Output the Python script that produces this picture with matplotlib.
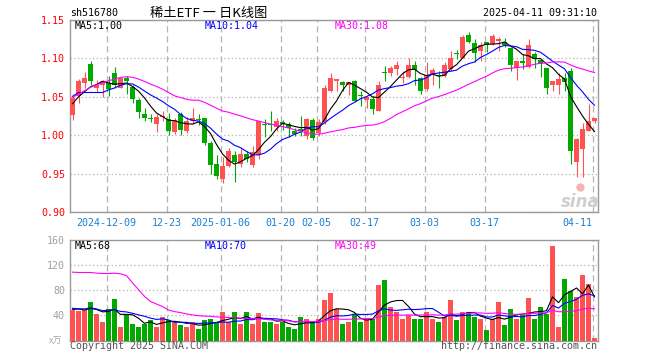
import matplotlib
matplotlib.use('Agg')
import matplotlib.pyplot as plt
import numpy as np

# ---------------- data ----------------
opens = [1.026, 1.051, 1.068, 1.093, 1.061, 1.066, 1.068, 1.081, 1.062, 1.075,
         1.063, 1.046, 1.028, 1.022, 1.015, 1.024, 1.021, 1.004, 1.028, 1.006,
         1.018, 1.021, 1.022, 0.990, 0.963, 0.943, 0.960, 0.974, 0.962, 0.975,
         0.961, 0.974, 1.015, 1.014, 1.011, 1.017, 1.014, 1.006, 1.008, 0.999,
         1.020, 1.003, 1.017, 1.057, 1.071, 1.069, 1.066, 1.070, 1.052, 1.046,
         1.047, 1.032, 1.082, 1.081, 1.086, 1.074, 1.076, 1.092, 1.074, 1.060,
         1.079, 1.078, 1.077, 1.086, 1.107, 1.100, 1.131, 1.120, 1.110, 1.121,
         1.119, 1.123, 1.121, 1.114, 1.087, 1.096, 1.089, 1.106, 1.098, 1.087,
         1.065, 1.065, 1.075, 1.083, 0.965, 0.982, 1.006, 1.018]
highs = [1.053, 1.073, 1.082, 1.096, 1.072, 1.072, 1.077, 1.089, 1.075, 1.077,
         1.066, 1.049, 1.036, 1.028, 1.027, 1.032, 1.029, 1.022, 1.030, 1.024,
         1.035, 1.027, 1.023, 0.993, 0.974, 0.972, 0.983, 0.979, 0.983, 0.979,
         0.986, 1.019, 1.021, 1.031, 1.022, 1.020, 1.017, 1.009, 1.025, 1.022,
         1.022, 1.021, 1.065, 1.081, 1.073, 1.071, 1.069, 1.072, 1.058, 1.051,
         1.051, 1.070, 1.090, 1.090, 1.097, 1.084, 1.100, 1.096, 1.076, 1.095,
         1.088, 1.083, 1.095, 1.110, 1.111, 1.130, 1.135, 1.125, 1.121, 1.122,
         1.132, 1.128, 1.126, 1.115, 1.096, 1.106, 1.125, 1.108, 1.099, 1.087,
         1.070, 1.081, 1.081, 1.087, 0.996, 1.016, 1.041, 1.023]
lows = [1.020, 1.042, 1.061, 1.066, 1.056, 1.050, 1.051, 1.061, 1.061, 1.053,
        1.042, 1.022, 1.018, 1.017, 1.004, 1.018, 1.000, 1.002, 1.000, 1.003,
        1.015, 1.013, 0.987, 0.950, 0.943, 0.938, 0.958, 0.939, 0.959, 0.965,
        0.959, 0.969, 0.998, 1.005, 1.006, 1.007, 0.998, 0.999, 0.999, 0.995,
        0.994, 0.999, 1.015, 1.056, 1.057, 1.058, 1.052, 1.043, 1.038, 1.036,
        1.028, 1.031, 1.070, 1.077, 1.079, 1.068, 1.075, 1.065, 1.053, 1.058,
        1.066, 1.061, 1.076, 1.084, 1.099, 1.100, 1.120, 1.095, 1.096, 1.108,
        1.118, 1.110, 1.115, 1.084, 1.072, 1.086, 1.087, 1.087, 1.076, 1.053,
        1.058, 1.054, 1.058, 0.963, 0.946, 0.945, 1.005, 1.016]
closes = [1.049, 1.071, 1.074, 1.071, 1.065, 1.070, 1.060, 1.066, 1.074, 1.070,
          1.047, 1.030, 1.022, 1.021, 1.024, 1.025, 1.005, 1.020, 1.007, 1.018,
          1.022, 1.020, 0.990, 0.961, 0.947, 0.960, 0.979, 0.965, 0.976, 0.969,
          0.978, 1.018, 1.013, 1.013, 1.019, 1.014, 1.009, 1.002, 1.005, 1.021,
          0.997, 1.017, 1.062, 1.074, 1.073, 1.065, 1.069, 1.045, 1.051, 1.050,
          1.034, 1.065, 1.081, 1.087, 1.092, 1.075, 1.091, 1.085, 1.058, 1.079,
          1.085, 1.077, 1.091, 1.100, 1.106, 1.128, 1.122, 1.107, 1.118, 1.117,
          1.129, 1.125, 1.118, 1.092, 1.096, 1.094, 1.117, 1.099, 1.093, 1.061,
          1.070, 1.073, 1.069, 0.980, 0.995, 1.008, 1.019, 1.022]
volumes = [48, 47, 48, 62, 42, 29, 50, 66, 21, 42,
           26, 22, 26, 32, 22, 38, 32, 29, 24, 21,
           29, 19, 32, 34, 29, 45, 29, 45, 27, 45,
           26, 43, 30, 29, 26, 29, 22, 19, 37, 34,
           29, 35, 64, 75, 50, 26, 30, 42, 29, 35,
           34, 88, 96, 54, 46, 35, 40, 35, 34, 46,
           35, 29, 37, 64, 32, 45, 45, 37, 35, 16,
           34, 61, 24, 50, 35, 40, 67, 35, 53, 42,
           150, 21, 98, 79, 70, 104, 90, 4]
# sessions before the visible window (needed for the moving averages)
prior_closes = [0.96, 0.93, 0.94, 0.97, 0.99, 0.98, 1.00, 1.01, 1.04,
                1.073, 1.096, 1.115, 1.126, 1.114, 1.133, 1.134, 1.152,
                1.073, 1.084, 1.06,
                1.02, 1.074, 1.071, 1.065, 1.07, 1.026, 1.041, 1.039, 1.050]
prior_volumes = [63, 48, 63, 72, 45, 53, 48, 52,
                 132, 371, 344, 350, 273, 143, 159, 198, 105, 70, 85, 78,
                 55, 50, 45, 60, 55, 45, 55, 50, 50]
tick_idx = [6, 16, 25, 35, 41, 49, 59, 69, 87]
tick_labels = ['2024-12-09', '12-23', '2025-01-06', '01-20', '02-05',
               '02-17', '03-03', '03-17', '04-11']
price_ticks = [0.90, 0.95, 1.00, 1.05, 1.10, 1.15]
vol_ticks = [40, 80, 120, 160]
price_ma_labels = ['MA5:1.00', 'MA10:1.04', 'MA30:1.08']
vol_ma_labels = ['MA5:68', 'MA10:70', 'MA30:49']
title_code = 'sh516780'
title_name = '稀土ETF 一 日K线图'
timestamp = '2025-04-11 09:31:10'

# ---------------- styling ----------------
RED = '#ff5252'
GREEN = '#00a800'
MA_COLORS = ['#000000', '#0000ff', '#ff00ff']
GRID = '#b4b4b4'
FRAME = '#999999'
MONO = 'DejaVu Sans Mono'

W, H = 660, 360
fig = plt.figure(figsize=(W / 100, H / 100), dpi=100)


def fx(px):
    return px / W


def fy(py):
    return 1 - py / H


L, R = 70, 598
ax = fig.add_axes([fx(L), fy(212), (R - L) / W, (212 - 20) / H])
axv = fig.add_axes([fx(L), fy(340.5), (R - L) / W, (340.5 - 240) / H])

o = np.array(opens); h = np.array(highs); l = np.array(lows); c = np.array(closes)
v = np.array(volumes, dtype=float)
n = len(c)
x = np.arange(n)
up = c >= o
cols = np.where(up, RED, GREEN)


def sma(full, k, count):
    s = np.convolve(full, np.ones(k) / k, mode='valid')
    return s[-count:]


full_c = np.concatenate([prior_closes, c])
full_v = np.concatenate([prior_volumes, v])

xmin = (L - 72.5) / 6
xmax = (R - 72.5) / 6

# price panel
ax.vlines(x, l, h, colors=cols, lw=0.8, zorder=2)
body_bottom = np.minimum(o, c)
body_h = np.maximum(np.abs(c - o), 0.0013)
ax.bar(x, body_h, bottom=body_bottom, width=0.82, color=cols, lw=0, zorder=3)
for k, col in zip([5, 10, 30], MA_COLORS):
    ax.plot(x, sma(full_c, k, n), color=col, lw=0.8, zorder=4)
ax.set_xlim(xmin, xmax)
ax.set_ylim(0.90, 1.15)

# volume panel
axv.bar(x, v, width=0.82, color=cols, lw=0, zorder=3)
for k, col in zip([5, 10, 30], MA_COLORS):
    axv.plot(x, sma(full_v, k, n), color=col, lw=0.8, zorder=4)
axv.set_xlim(xmin, xmax)
axv.set_ylim(0, 160)

grid_x = np.array(tick_idx) - 0.3
for a in (ax, axv):
    a.set_xticks(grid_x)
    a.grid(axis='x', linestyle=(0, (5, 3)), color=GRID, lw=0.9)
    a.grid(axis='y', linestyle=(0, (1, 2)), color=GRID, lw=0.9)
    a.set_axisbelow(True)
    for s in a.spines.values():
        s.set_color(FRAME)
        s.set_linewidth(1.0)
    a.tick_params(length=0)

ax.set_xticklabels(tick_labels, fontsize=7.2, family=MONO, color='#1a7fd0')
ax.tick_params(axis='x', pad=4)
ax.get_xticklabels()[-1].set_ha('right')
ax.set_yticks(price_ticks)
ax.set_yticklabels([f'{t:.2f}' for t in price_ticks], fontsize=7.2, family=MONO, color='#ff0000')
ax.tick_params(axis='y', pad=3.6)

axv.set_xticklabels([])
axv.set_yticks(vol_ticks)
axv.set_yticklabels([str(t) for t in vol_ticks], fontsize=7.2, family=MONO, color='#a0a0a0')
axv.tick_params(axis='y', pad=3.6)

# texts
fig.text(fx(70), fy(13), title_code, fontsize=7.2, family=MONO, va='center', ha='left')
fig.text(fx(209), fy(13), title_name, fontsize=9.5,
         family=['Noto Sans CJK SC', 'DejaVu Sans'], va='center', ha='center')
fig.text(fx(597), fy(13), timestamp, fontsize=7.2, family=MONO, va='center', ha='right')

for xp, txt, col in zip([75, 205, 335], price_ma_labels, MA_COLORS):
    fig.text(fx(xp), fy(26), txt, fontsize=7.2, family=MONO, color=col, va='center', ha='left')
for xp, txt, col in zip([75, 205, 335], vol_ma_labels, MA_COLORS):
    fig.text(fx(xp), fy(246), txt, fontsize=7.2, family=MONO, color=col, va='center', ha='left')

fig.text(fx(56), fy(341), 'x万', fontsize=6.5, family=['Noto Sans CJK SC', 'DejaVu Sans'],
         color='#a8a8a8', va='center', ha='center')
fig.text(fx(70), fy(346), 'Copyright 2025 SINA.COM', fontsize=7.2, family=MONO,
         color='#555555', va='center', ha='left')
fig.text(fx(597), fy(346), 'http://finance.sina.com.cn', fontsize=7.2, family=MONO,
         color='#555555', va='center', ha='right')

# sina watermark (logo drawn as a marker, text below it)
fig.text(fx(580), fy(202), 'sina', fontsize=12, fontstyle='italic', fontweight='bold',
         color='#cfcfcf', va='center', ha='center', family='DejaVu Sans')
ax.plot([0.966], [0.13], transform=ax.transAxes, marker='o', ms=5,
        color='#f2b4b4', mec='#f2b4b4', clip_on=False, zorder=1)

fig.savefig('out.png', dpi=100)
